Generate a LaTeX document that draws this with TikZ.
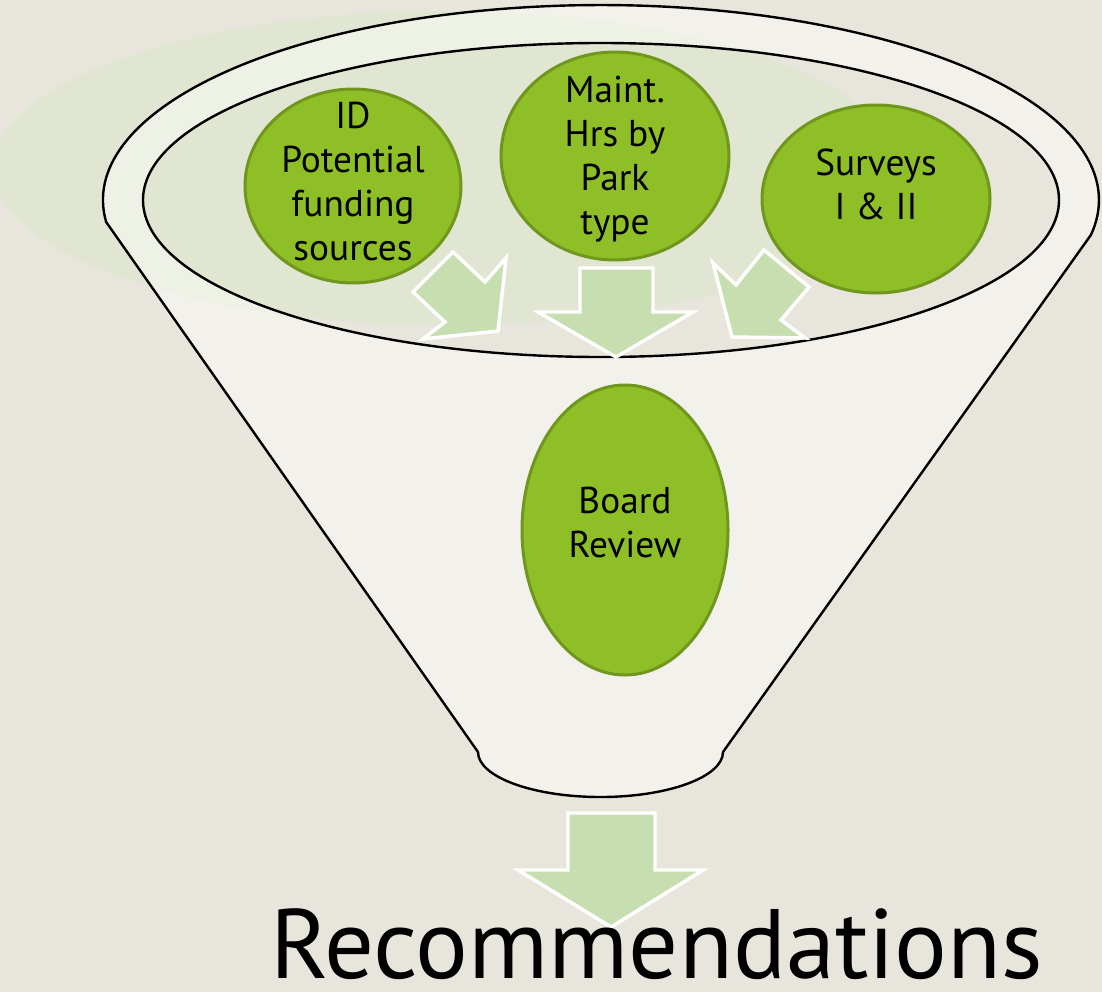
\documentclass[tikz,border=0pt]{standalone}
\usepackage{fontspec}
\setmainfont{PT Sans}
\usetikzlibrary{shapes.geometric}

\definecolor{bgbeige}{HTML}{E8E6DC}
\definecolor{haze}{HTML}{E1E6D3}
\definecolor{stagegreen}{HTML}{8FBF26}
\definecolor{stageline}{HTML}{70961E}
\definecolor{arrowgreen}{HTML}{C6DEB0}

\tikzset{
  stage/.style={ellipse, fill=stagegreen, draw=stageline, line width=2.25pt, inner sep=0pt},
  stagetext/.style={align=center, inner sep=0pt, font=\fontsize{28}{33}\selectfont},
  flow/.style={fill=arrowgreen, draw=white, line width=2.6pt, line join=miter},
  funnel/.style={draw=black, line width=1.8pt, fill=white, fill opacity=0.45, even odd rule}
}

\begin{document}
\begin{tikzpicture}[x=0.75pt, y=-0.75pt]

  \fill[bgbeige] (0,0) rectangle (1102,992);
  \useasboundingbox (0,0) rectangle (1102,992);

  % faint backdrop
  \fill[haze] (445,168) ellipse [x radius=452, y radius=157];

  % funnel with its mouth
  \path[funnel] (106.2,222.1) arc [start angle=173.5, end angle=370.3, x radius=498, y radius=195]
    -- (723,752) arc [start angle=0, end angle=180, x radius=122.5, y radius=45] -- cycle
    (601,200) ellipse [x radius=458, y radius=157];

  \node (idsrc) [stage, minimum width=162pt, minimum height=145.5pt] at (353,186) {};
  \node (maint) [stage, minimum width=171pt, minimum height=156pt] at (615,156) {};
  \node (surveys) [stage, minimum width=171pt, minimum height=141pt] at (876,199) {};
  \node (board) [stage, minimum width=154.5pt, minimum height=217.5pt] at (625,530) {};

  \node (idtext) [stagetext] at ([yshift=3pt]idsrc.center) {ID\\Potential\\funding\\sources};
  \node (mainttext) [stagetext] at ([yshift=-2pt]maint.center) {Maint.\\Hrs by\\Park\\type};
  \node (surveystext) [stagetext] at ([yshift=11pt]surveys.center) {Surveys\\I \& II};
  \node (boardtext) [stagetext] at ([yshift=6pt]board.center) {Board\\Review};

  % arrows into the funnel
  \draw[flow] (413,292) -- (453,252) -- (485,282) -- (506,258) -- (498,331) -- (423,339) -- (445,322) -- cycle;
  \draw[flow] (580,268) -- (653,268) -- (653,312) -- (693,312) -- (616,357) -- (538,312) -- (580,312) -- cycle;
  \draw[flow] (764,250) -- (809,287) -- (781,320) -- (805,338) -- (732,337) -- (713,263) -- (736,285) -- cycle;

  % arrow out
  \draw[flow] (568,813) -- (655,813) -- (655,870) -- (703,870) -- (611,927) -- (518,870) -- (568,870) -- cycle;

  \node (recs) [anchor=base, inner sep=0pt, font=\fontsize{74}{80}\selectfont] at (657,978) {Recommendations};

\end{tikzpicture}
\end{document}
